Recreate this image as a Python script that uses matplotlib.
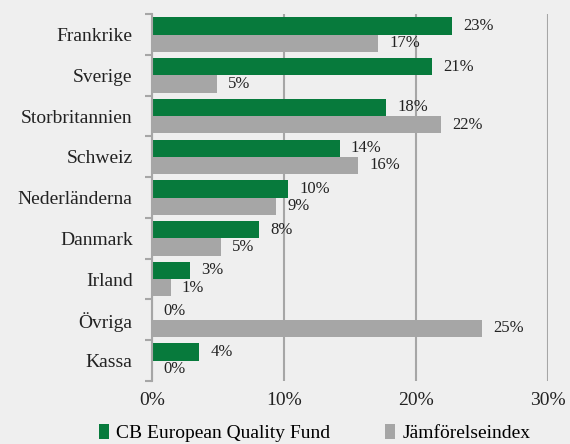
import matplotlib.pyplot as plt
import numpy as np

categories = ["Frankrike", "Sverige", "Storbritannien", "Schweiz", "Nederländerna",
              "Danmark", "Irland", "Övriga", "Kassa"]
fund = [22.7, 21.2, 17.7, 14.2, 10.3, 8.1, 2.9, 0.0, 3.55]
index = [17.1, 4.9, 21.9, 15.6, 9.4, 5.2, 1.4, 25.0, 0.0]
fund_labels = ["23%", "21%", "18%", "14%", "10%", "8%", "3%", "0%", "4%"]
index_labels = ["17%", "5%", "22%", "16%", "9%", "5%", "1%", "25%", "0%"]

green = "#077a3c"
grey = "#a6a6a6"
bg = "#efefef"
plt.rcParams['font.family'] = ['Liberation Serif', 'DejaVu Serif']

fig = plt.figure(figsize=(5.7, 4.44), dpi=100, facecolor=bg)
ax = fig.add_axes([0.267, 0.142, 0.695, 0.826], facecolor=bg)

y = np.arange(len(categories))
h = 0.425
b1 = ax.barh(y - h / 2, fund, height=h, color=green, label="CB European Quality Fund", zorder=3)
b2 = ax.barh(y + h / 2, index, height=h, color=grey, label="Jämförelseindex", zorder=3)

for bars, labs in ((b1, fund_labels), (b2, index_labels)):
	for bar, lab in zip(bars, labs):
		ax.annotate(lab, (bar.get_width(), bar.get_y() + bar.get_height() / 2),
					xytext=(8, 0), textcoords="offset points", ha="left", va="center",
					fontsize=12, color="#222222")

ax.set_xlim(0, 30)
ax.set_ylim(len(categories) - 0.5, -0.5)
ax.set_xticks([0, 10, 20, 30])
ax.set_xticklabels(["0%", "10%", "20%", "30%"], fontsize=14, color="#222222")
ax.set_yticks(y)
ax.set_yticklabels(categories, fontsize=14, color="#222222")
ax.set_yticks(np.arange(-0.5, len(categories)), minor=True)
ax.tick_params(axis="y", which="major", length=0, pad=14)
ax.tick_params(axis="y", which="minor", length=5, width=1.5, color=grey, direction="out")
ax.tick_params(axis="x", length=0, pad=8)
ax.xaxis.grid(True, color=grey, linewidth=1.5, zorder=0)
for s in ("top", "right", "bottom"):
	ax.spines[s].set_visible(False)
ax.spines["left"].set_color(grey)
ax.spines["left"].set_linewidth(1.5)
ax.spines["left"].set_zorder(4)

fig.legend(handles=[b1, b2], loc="center", bbox_to_anchor=(0.552, 0.024), ncol=2,
		   frameon=False, fontsize=14, handlelength=0.5, handleheight=0.75,
		   handletextpad=0.4, columnspacing=2.8, borderpad=0.1)

plt.savefig("out.png", facecolor=bg)
plt.close()
